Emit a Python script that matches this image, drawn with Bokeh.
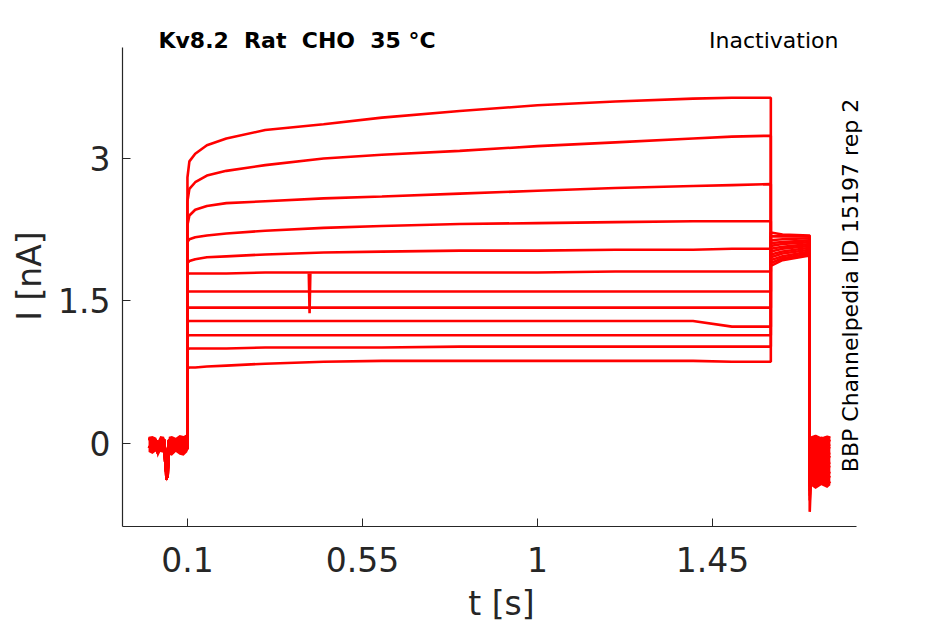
import math
from bokeh.plotting import figure
from bokeh.models import Range1d, FixedTicker, Label
from bokeh.embed import file_html
from bokeh.resources import INLINE

# ---- data ----
t_base = [0.0, 0.01, 0.02, 0.023, 0.03, 0.04, 0.043, 0.046, 0.049, 0.052, 0.06, 0.07, 0.08, 0.09, 0.1]
base_a = [0.05, 0.04, 0.03, -0.06, 0.03, 0.04, -0.10, -0.38, -0.30, 0.03, 0.05, 0.00, 0.06, 0.05, 0.08]
base_b = [-0.03, -0.06, -0.04, -0.10, -0.02, -0.05, -0.20, -0.32, -0.36, -0.06, -0.10, -0.05, -0.08, -0.10, -0.05]
# noise envelope of the overlapping baselines
base_hi = [0.07, 0.08, 0.06, 0.02, 0.08, 0.07, 0.02, -0.05, -0.05, 0.07, 0.08, 0.06, 0.09, 0.08, 0.10]
base_lo = [-0.09, -0.11, -0.08, -0.15, -0.09, -0.10, -0.28, -0.40, -0.38, -0.12, -0.13, -0.09, -0.12, -0.13, -0.09]

t_step = [0.1, 0.105, 0.12, 0.15, 0.2, 0.3, 0.45, 0.6, 0.8, 1.0, 1.2, 1.4, 1.5, 1.6]
trace1 = [2.80, 2.97, 3.05, 3.14, 3.21, 3.30, 3.36, 3.43, 3.50, 3.56, 3.60, 3.63, 3.64, 3.64]
trace2 = [2.55, 2.68, 2.75, 2.82, 2.87, 2.93, 3.00, 3.04, 3.08, 3.13, 3.17, 3.21, 3.23, 3.24]
trace3 = [2.30, 2.40, 2.46, 2.50, 2.53, 2.55, 2.58, 2.60, 2.63, 2.66, 2.69, 2.71, 2.72, 2.73]
trace4 = [2.12, 2.15, 2.17, 2.19, 2.21, 2.24, 2.27, 2.29, 2.31, 2.32, 2.33, 2.34, 2.34, 2.34]
trace5 = [1.90, 1.92, 1.94, 1.96, 1.97, 1.99, 2.01, 2.02, 2.03, 2.03, 2.04, 2.04, 2.05, 2.05]
trace6 = [1.78, 1.79, 1.79, 1.79, 1.79, 1.80, 1.80, 1.80, 1.80, 1.80, 1.81, 1.81, 1.81, 1.81]
trace7 = [1.60, 1.60, 1.60, 1.60, 1.60, 1.60, 1.60, 1.60, 1.60, 1.60, 1.60, 1.60, 1.60, 1.60]
trace8 = [1.43, 1.43, 1.43, 1.43, 1.43, 1.43, 1.43, 1.43, 1.43, 1.43, 1.43, 1.43, 1.43, 1.43]
trace9 = [1.28, 1.29, 1.29, 1.29, 1.29, 1.29, 1.29, 1.29, 1.29, 1.29, 1.29, 1.29, 1.23, 1.23]
trace10 = [1.13, 1.14, 1.14, 1.14, 1.14, 1.14, 1.14, 1.14, 1.14, 1.14, 1.14, 1.14, 1.14, 1.14]
trace11 = [0.99, 1.00, 1.00, 1.00, 1.00, 1.01, 1.01, 1.01, 1.02, 1.02, 1.02, 1.02, 1.02, 1.02]
trace12 = [0.79, 0.80, 0.80, 0.81, 0.82, 0.84, 0.86, 0.87, 0.87, 0.87, 0.87, 0.87, 0.86, 0.86]
step_traces = [trace1, trace2, trace3, trace4, trace5, trace6,
               trace7, trace8, trace9, trace10, trace11, trace12]

# artefact on trace 6
spike_t = [0.412, 0.414, 0.416]
spike_i = [1.79, 1.37, 1.79]

t_test = [1.6, 1.63, 1.7]
test_start = [1.87, 1.90, 1.93, 1.96, 1.99, 2.02, 2.05, 2.08, 2.11, 2.14, 2.18, 2.22]
test_mid = [1.93, 1.95, 1.97, 2.00, 2.02, 2.05, 2.07, 2.10, 2.12, 2.15, 2.18, 2.20]
test_end = [1.98, 2.00, 2.02, 2.04, 2.06, 2.08, 2.10, 2.12, 2.14, 2.16, 2.18, 2.19]

t_tail = [1.7, 1.703, 1.715, 1.73, 1.745, 1.753]
tail_rows = [
    [-0.72, -0.40, -0.45, -0.38, -0.43, -0.40],
    [-0.60, -0.36, -0.33, -0.38, -0.34, -0.36],
    [-0.55, -0.30, -0.34, -0.29, -0.32, -0.30],
    [-0.50, -0.26, -0.22, -0.27, -0.24, -0.25],
    [-0.45, -0.20, -0.24, -0.18, -0.21, -0.20],
    [-0.42, -0.15, -0.12, -0.17, -0.13, -0.15],
    [-0.38, -0.10, -0.13, -0.08, -0.11, -0.10],
    [-0.35, -0.06, -0.03, -0.07, -0.04, -0.05],
    [-0.32, -0.02, -0.05, 0.00, -0.02, -0.01],
    [-0.30, 0.01, 0.04, 0.00, 0.03, 0.02],
    [-0.28, 0.04, 0.02, 0.06, 0.03, 0.04],
    [-0.25, 0.06, 0.08, 0.05, 0.07, 0.06],
]
# noise envelope of the overlapping tails
t_tail_band = [1.705, 1.715, 1.73, 1.745, 1.753]
tail_hi = [0.07, 0.08, 0.06, 0.08, 0.07]
tail_lo = [-0.45, -0.48, -0.44, -0.47, -0.44]

x_ticks = [0.1, 0.55, 1, 1.45]
x_tick_labels = ["0.1", "0.55", "1", "1.45"]
y_ticks = [0, 1.5, 3]
y_tick_labels = ["0", "1.5", "3"]

RED = "#ff0000"
AX = "#262626"
FONT = "DejaVu Sans"
NB = "\u00a0"

p = figure(frame_width=758, frame_height=501,
           min_border_left=122, min_border_top=25, min_border_right=40, min_border_bottom=90,
           x_range=Range1d(-0.067, 1.882), y_range=Range1d(-0.874, 4.4),
           output_backend="svg", toolbar_location=None, tools="")
p.outline_line_color = None
p.xgrid.visible = False
p.ygrid.visible = False
p.background_fill_color = "white"
p.border_fill_color = "white"

p.varea(x=t_base, y1=base_lo, y2=base_hi, fill_color=RED)
p.varea(x=t_tail_band, y1=tail_lo, y2=tail_hi, fill_color=RED)

for i, tr in enumerate(step_traces):
    base = base_a if i % 2 == 0 else base_b
    xs = t_base + t_step + t_test + t_tail
    ys = base + tr + [test_start[i], test_mid[i], test_end[i]] + tail_rows[i]
    p.line(xs, ys, line_color=RED, line_width=2.6)

p.line(spike_t, spike_i, line_color=RED, line_width=2.6)

for ax in (p.xaxis, p.yaxis):
    ax.axis_line_color = AX
    ax.axis_line_width = 1.2
    ax.major_tick_line_color = AX
    ax.major_tick_in = 8
    ax.major_tick_out = 0
    ax.minor_tick_line_color = None
    ax.major_label_text_font = FONT
    ax.major_label_text_font_size = "33px"
    ax.major_label_text_color = AX
    ax.axis_label_text_font = FONT
    ax.axis_label_text_font_size = "33px"
    ax.axis_label_text_font_style = "normal"
    ax.axis_label_text_color = AX

p.xaxis.bounds = (-0.067, 1.82)
p.yaxis.bounds = (-0.874, 4.168)
p.xaxis.ticker = FixedTicker(ticks=x_ticks)
p.xaxis.major_label_overrides = {k: v for k, v in zip(x_ticks, x_tick_labels)}
p.yaxis.ticker = FixedTicker(ticks=y_ticks)
p.yaxis.major_label_overrides = {k: v for k, v in zip(y_ticks, y_tick_labels)}
p.xaxis.axis_label = "t [s]"
p.yaxis.axis_label = "I [nA]"
p.xaxis.major_label_standoff = 20
p.yaxis.major_label_standoff = 12
p.xaxis.axis_label_standoff = 9
p.yaxis.axis_label_standoff = 6

title_text = "Kv8.2" + NB + " Rat" + NB + " CHO" + NB + " 35 °C"
p.add_layout(Label(x=0.0254, y=4.24, text=title_text, text_font=FONT,
                   text_font_size="22px", text_font_style="bold", text_color="black",
                   text_align="left", text_baseline="middle"))
p.add_layout(Label(x=1.774, y=4.24, text="Inactivation", text_font=FONT,
                   text_font_size="22px", text_color="black",
                   text_align="right", text_baseline="middle"))
p.add_layout(Label(x=1.805, y=1.663, text="BBP Channelpedia ID 15197 rep 2", text_font=FONT,
                   text_font_size="22px", text_color="black", angle=math.pi / 2,
                   text_align="center", text_baseline="middle"))

open("out.html", "w").write(file_html(p, INLINE))
